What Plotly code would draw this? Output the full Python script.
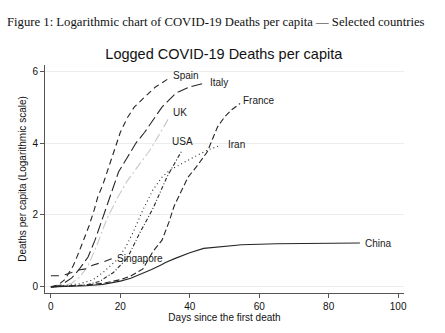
import plotly.graph_objects as go

# Days since first death and logged deaths per capita, by country
spain_days = [0, 2, 4, 5, 6.5, 8, 9.5, 11, 12.5, 13.5, 15, 16.5, 18.5, 20, 22, 24, 27, 30, 34]
spain_vals = [0, 0.05, 0.2, 0.35, 0.6, 0.95, 1.3, 1.7, 2.15, 2.5, 2.85, 3.3, 3.9, 4.3, 4.7, 5.0, 5.28, 5.55, 5.8]

italy_days = [0, 3, 6, 8, 10.7, 12.7, 15, 17.6, 19.5, 22, 24.5, 27, 29.5, 32, 36, 40, 44.4]
italy_vals = [0, 0.05, 0.25, 0.47, 0.83, 1.3, 1.94, 2.7, 3.2, 3.6, 4.0, 4.3, 4.64, 5.0, 5.39, 5.56, 5.67]

uk_days = [0, 3, 6, 8, 10.5, 13, 16, 19, 22, 25, 28.5, 31, 34]
uk_vals = [0, 0.02, 0.1, 0.25, 0.55, 1.1, 1.86, 2.45, 2.95, 3.35, 3.8, 4.2, 4.7]

usa_days = [0, 5, 10, 14, 18, 22, 25.6, 29.5, 33.4, 36, 37.8]
usa_vals = [0, 0.02, 0.05, 0.15, 0.4, 0.8, 1.5, 2.2, 3.05, 3.5, 3.8]

iran_days = [0, 4, 8, 12, 15, 19, 21.5, 23.6, 26.5, 29.4, 32, 34.3, 38, 42, 45, 49]
iran_vals = [0, 0.03, 0.08, 0.19, 0.4, 0.75, 1.1, 1.5, 2.14, 2.7, 3.05, 3.25, 3.45, 3.65, 3.8, 3.94]

france_days = [0, 5, 10, 15, 20, 23, 26.5, 29.5, 32, 34, 35.5, 37.5, 39.5, 42, 45, 46.5, 48, 50, 52, 54.5]
france_vals = [0, 0.02, 0.05, 0.1, 0.2, 0.3, 0.5, 1.0, 1.3, 1.8, 2.25, 2.65, 3.05, 3.35, 3.75, 4.1, 4.45, 4.72, 4.92, 5.1]

singapore_days = [0, 3, 6, 8, 10, 12, 14, 17.5]
singapore_vals = [0.31, 0.31, 0.4, 0.47, 0.5, 0.6, 0.66, 0.78]

china_days = [0, 5, 10, 15, 18, 20, 23, 26, 29, 32, 33, 36, 40, 44, 50, 55, 65, 75, 89]
china_vals = [0, 0.01, 0.03, 0.07, 0.12, 0.16, 0.24, 0.35, 0.48, 0.62, 0.68, 0.8, 0.95, 1.07, 1.13, 1.17, 1.2, 1.21, 1.22]

x_ticks = [0, 20, 40, 60, 80, 100]
y_ticks = [0, 2, 4, 6]

series = [
    ("Spain", spain_days, spain_vals),
    ("Italy", italy_days, italy_vals),
    ("UK", uk_days, uk_vals),
    ("USA", usa_days, usa_vals),
    ("Iran", iran_days, iran_vals),
    ("France", france_days, france_vals),
    ("Singapore", singapore_days, singapore_vals),
    ("China", china_days, china_vals),
]

# line look and end-label placement for each country
style = {
    "Spain":     dict(color="#262626", dash="6px,4px", lab=dict(xanchor="left", xshift=2, yshift=3)),
    "Italy":     dict(color="#262626", dash="11px,4px", lab=dict(xanchor="left", xshift=3, yshift=0)),
    "UK":        dict(color="#c8c8c8", dash="9px,3px,2px,3px", lab=dict(xanchor="left", xshift=2, yshift=5)),
    "USA":       dict(color="#262626", dash="4px,2px,1px,2px", lab=dict(xanchor="center", yanchor="bottom", yshift=1)),
    "Iran":      dict(color="#262626", dash="1px,3px", lab=dict(xanchor="left", xshift=5, yshift=1)),
    "France":    dict(color="#262626", dash="6px,3px", lab=dict(xanchor="left", xshift=1, yshift=3)),
    "Singapore": dict(color="#262626", dash="8px,6px", lab=dict(xanchor="left", xshift=3, yshift=0)),
    "China":     dict(color="#262626", dash="solid", lab=dict(xanchor="left", xshift=3, yshift=0)),
}

SANS = "Liberation Sans, Arial, sans-serif"

fig = go.Figure()
annotations = []
for name, xs, ys in series:
    st = style[name]
    fig.add_trace(go.Scatter(
        x=xs, y=ys, mode="lines", name=name,
        line=dict(color=st["color"], width=1.1, dash=st["dash"]),
        showlegend=False, hoverinfo="skip",
    ))
    lab = dict(yanchor="middle")
    lab.update(st["lab"])
    annotations.append(dict(
        x=xs[-1], y=ys[-1], xref="x", yref="y", text=name, showarrow=False,
        font=dict(family=SANS, size=10, color="#1a1a1a"),
        **lab,
    ))

# figure caption above the chart
annotations.append(dict(
    x=-0.112, y=1.19, xref="paper", yref="paper", xanchor="left", yanchor="middle",
    text="Figure 1: Logarithmic chart of COVID-19 Deaths per capita \u2014 Selected countries",
    showarrow=False,
    font=dict(family="Liberation Serif, Times New Roman, serif", size=12.7, color="#111"),
))

fig.update_layout(
    width=445, height=333,
    margin=dict(l=45, r=41, t=65, b=40),
    paper_bgcolor="white", plot_bgcolor="white",
    title=dict(
        text="Logged COVID-19 Deaths per capita",
        x=0.503, xanchor="center", y=1 - 54 / 333, yanchor="middle",
        font=dict(family=SANS, size=14.5, color="#111"),
    ),
    annotations=annotations,
    xaxis=dict(
        range=[-1.7, 101.7], tickvals=x_ticks, ticktext=[str(v) for v in x_ticks],
        showgrid=False, zeroline=False, showline=True, linecolor="#555", linewidth=1,
        ticks="outside", ticklen=4, tickcolor="#555",
        tickfont=dict(family=SANS, size=10, color="#111"),
        title=dict(text="Days since the first death", standoff=1,
                   font=dict(family=SANS, size=10, color="#111")),
    ),
    yaxis=dict(
        range=[-0.17, 6.17], tickvals=y_ticks, ticktext=[str(v) for v in y_ticks],
        showgrid=True, gridcolor="#ececec", gridwidth=1, zeroline=False,
        showline=True, linecolor="#555", linewidth=1,
        ticks="outside", ticklen=4, tickcolor="#555",
        tickfont=dict(family=SANS, size=10, color="#111"),
        title=dict(text="Deaths per capita (Logarithmic scale)", standoff=3,
                   font=dict(family=SANS, size=10, color="#111")),
    ),
)

fig.write_html("out.html")
